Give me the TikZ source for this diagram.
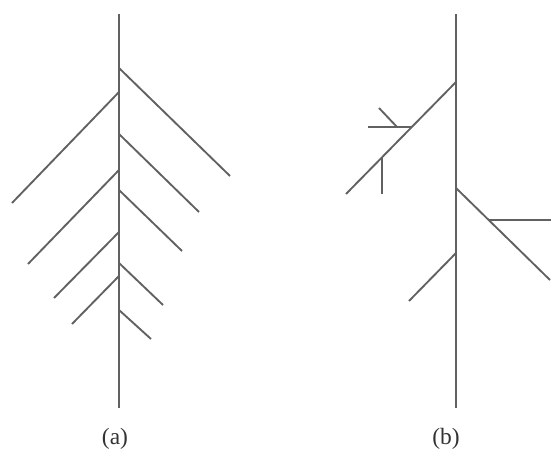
\documentclass[tikz,border=0pt]{standalone}
\usepackage{fontspec}
\setmainfont{Liberation Serif}
\begin{document}
\begin{tikzpicture}[x=0.03cm, y=-0.03cm,
    branch/.style={black!62, line width=1.6pt},
    caption/.style={font=\fontsize{20}{24}\selectfont, text=black!80}]
    \useasboundingbox (0,0) rectangle (552,456);
    % Tree (a): trunk
    \draw[branch] (119,14) -- (119,408);
    % Right-hand branches, going down
    \foreach \y/\ex/\ey in {68/230/176, 134/199/212, 190/182/251, 263/163/305, 310/151/339}
        \draw[branch] (119,\y) -- (\ex,\ey);
    % Left-hand branches, going down
    \foreach \y/\ex/\ey in {92/12/203, 170/28/264, 232/54/298, 276/72/324}
        \draw[branch] (119,\y) -- (\ex,\ey);
    \node[caption] (capa) at (115,439) {(a)};
    % Tree (b): trunk
    \draw[branch] (456,14) -- (456,408);
    % Upper left branch with its twigs
    \draw[branch] (456,82) -- (346,194);
    \draw[branch] (411,127) -- (368,127);
    \draw[branch] (397,127) -- (379,108);
    \draw[branch] (382,157) -- (382,194);
    % Right branch with one twig
    \draw[branch] (456,188) -- (550,280);
    \draw[branch] (489,220) -- (551,220);
    % Lower left branch
    \draw[branch] (456,253) -- (409,301);
    \node[caption] (capb) at (446,439) {(b)};
\end{tikzpicture}
\end{document}
